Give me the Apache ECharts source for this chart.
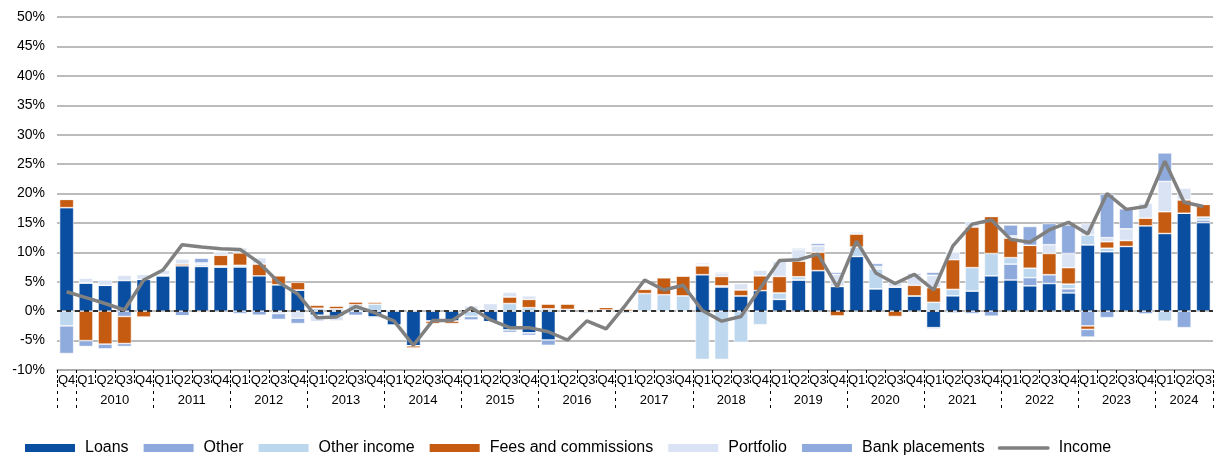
<!DOCTYPE html>
<html>
<head>
<meta charset="UTF-8">
<title>Income growth</title>
<script src="https://cdn.jsdelivr.net/npm/echarts@6/dist/echarts.min.js"></script>
<style>
  html, body { margin: 0; padding: 0; background: #fff; }
  #container { width: 1215px; height: 458px; }
</style>
</head>
<body>
<div id="container"></div>
<script type="text/javascript">
// periods: 2009 Q4 .. 2024 Q3
var quarterLabels = [];
var yearLabels = [];
(function () {
  var y = 2009, q = 4;
  while (!(y === 2024 && q === 4)) {
    quarterLabels.push('Q' + q);
    yearLabels.push(String(y));
    q++;
    if (q > 4) { q = 1; y++; }
  }
})();

// contributions, percentage points
var loans = [17.6, 4.8, 4.4, 5.2, 5.4, 6.0, 7.7, 7.6, 7.5, 7.5, 6.0, 4.5, 3.6,
  -0.7, -0.9, 0, -1.0, -2.4, -5.9, -1.7, -1.7, 0, -1.8, -3.2, -3.7, -4.9, 0, 0, 0,
  0, 0, 0, 0, 6.2, 4.1, 2.6, 3.5, 2.0, 5.3, 6.9, 4.2, 9.3, 3.8, 4.1, 2.6,
  -2.8, 2.6, 3.4, 6.0, 5.3, 4.3, 4.7, 3.1, 11.25, 10.1, 11.0, 14.5, 13.2, 16.65, 15.05];
var other = [0, 0, 0, -0.9, 0, 0, -0.8, 0, 0, -0.4, -0.7, 0, 0,
  0, 0, -0.7, 0, 0, 0, 0, 0, 0, 0, 0, 0, -0.9, 0, 0, 0,
  0, 0, 0, 0, 0, 0.2, 0, 0, 0, 0, 0, 0, 0, 0, 0, 0,
  -0.2, -0.3, -0.4, -0.85, 2.7, 1.4, 1.5, 0.7, -2.5, -1.1, 0, -0.5, 0, 0, 0.45];
var otherIncome = [-2.5, 0, 0, 0, 0, 0.2, 0, 0.3, 0.2, 0.3, 0, 0, 0,
  0.5, 0.4, 1.1, 1.2, 0, 0, 0, 0, -0.9, 0, 1.3, 0.6, 0.4, 0.3, 0, 0.2,
  0, 3.0, 2.8, 2.6, -8.2, -8.2, -5.3, -2.3, 1.1, 0.55, 0, 0, 1.6, 3.4, 0, 0,
  1.5, 1.1, 4.0, 3.8, 1.1, 1.6, 0, 0.8, 1.7, 0.6, 0, 0, -1.7, 0, 0.5];
var fees = [1.4, -5.0, -5.6, -4.6, -1.0, 0, 0.3, -0.2, 1.8, 2.1, 2.0, 1.5, 1.3,
  0.5, 0.45, 0.5, 0.3, 0, -0.35, -0.4, -0.4, 0.3, 0, 1.1, 1.4, 0.85, 0.95, 0.2, 0.45,
  0.3, 0.7, 2.9, 3.4, 1.5, 1.6, 1.0, 2.5, 2.8, 2.65, 3.1, -0.8, 2.2, 0, -0.9, 1.8,
  2.5, 5.05, 6.9, 6.3, 3.3, 3.9, 3.6, 2.8, -0.6, 1.1, 1.0, 1.3, 3.7, 2.25, 2.15];
var portfolio = [0, 0.8, 0.9, 0.9, 0.85, 0.8, 0.9, 0.3, 0.6, 0.9, 1.1, -0.4, -1.2,
  -1.1, -0.8, 0, -0.3, 0.3, 0.3, 0.3, 0.2, 0.6, 1.3, 0.8, 0.6, 0, 0, -0.4, 0,
  -0.4, 0.2, 0, 0, 0.3, 0.5, 1.1, 1.0, 2.6, 1.95, 1.1, 2.05, 0.4, 0.4, 1.1, 1.7,
  2.1, 1.35, 1.0, 0, 0.4, 0, 1.5, 2.4, 1.95, 0.7, 2.0, 2.55, 5.15, 2.0, 0];
var bankPlacements = [-4.7, -1.0, -0.8, -0.5, 0, 0, 0, 0.8, 0, 0, 0, -1.0, -0.9,
  0, 0, 0, 0, 0, 0, 0, 0, -0.6, 0, -0.4, -0.4, 0, 0, 0, 0,
  0, 0, 0, 0, 0.2, 0.2, 0, 0, 0, 0.25, 0.4, 0.35, 0, 0.5, 0, 0.3,
  0.5, 0, 0, 0, 1.85, 3.2, 3.6, 4.85, -1.3, 7.4, 3.4, 0, 4.85, -2.8, 0];
var income = [3.3, 2.3, 1.3, 0.2, 5.3, 7.0, 11.3, 10.9, 10.6, 10.5, 8.2, 4.9, 2.9,
  -1.1, -1.0, 0.8, -0.3, -1.7, -5.8, -1.6, -1.6, 0.6, -1.5, -2.8, -2.8, -3.5, -4.9, -1.65, -3.0,
  1.0, 5.3, 3.6, 4.4, 0.1, -1.7, -0.9, 3.9, 8.6, 8.75, 9.7, 4.1, 11.9, 6.5, 4.7, 6.25,
  3.6, 11.1, 14.8, 15.5, 12.2, 11.7, 13.8, 15.1, 13.1, 20.0, 17.3, 17.8, 25.5, 18.5, 17.8];

var FONT = 'Liberation Sans, Arial, sans-serif';

var dom = document.getElementById('container');
var myChart = echarts.init(dom, null, { renderer: 'canvas' });

function barSeries(name, data, color) {
  return {
    name: name,
    type: 'bar',
    stack: 'total',
    data: data,
    barCategoryGap: '27%',
    itemStyle: { color: color, borderColor: '#ffffff', borderWidth: 0.6 },
    emphasis: { disabled: true }
  };
}

var series = [
  barSeries('Loans', loans, '#0a4ea2'),
  barSeries('Other', other, '#8eaadd'),
  barSeries('Other income', otherIncome, '#bdd7ee'),
  barSeries('Fees and commissions', fees, '#c55a11'),
  barSeries('Portfolio', portfolio, '#dae3f3'),
  barSeries('Bank placements', bankPlacements, '#8faadc'),
  {
    name: 'Income',
    type: 'line',
    data: income,
    symbol: 'none',
    z: 5,
    lineStyle: { color: '#808080', width: 3.5 },
    itemStyle: { color: '#808080' }
  }
];
// dashed zero line
series[0].markLine = {
  silent: true,
  symbol: 'none',
  label: { show: false },
  lineStyle: { color: '#000', type: [5, 4], width: 1.5 },
  data: [{ yAxis: 0 }],
  z: 4
};

var option = {
  animation: false,
  textStyle: { fontFamily: FONT },
  grid: { left: 57, right: 0, top: 17, bottom: 88 },
  legend: {
    left: 18,
    top: 435,
    itemWidth: 52,
    itemHeight: 10,
    itemGap: 13,
    textStyle: { fontFamily: FONT, fontSize: 16, color: '#000', padding: [0, 0, 0, 4] },
    data: [
      { name: 'Loans', icon: 'rect' },
      { name: 'Other', icon: 'rect' },
      { name: 'Other income', icon: 'rect' },
      { name: 'Fees and commissions', icon: 'rect' },
      { name: 'Portfolio', icon: 'rect' },
      { name: 'Bank placements', icon: 'rect' },
      { name: 'Income', icon: 'path://M0,0h0.05v0.05h-0.05z M1,3.3h50a1.7,1.7 0 0 1 0,3.4h-50a1.7,1.7 0 0 1 0,-3.4z M0,9.95h0.05v0.05h-0.05z' }
    ]
  },
  xAxis: [
    {
      type: 'category',
      data: quarterLabels,
      position: 'bottom',
      axisLine: { onZero: false, lineStyle: { color: '#a6a6a6', width: 1.5 } },
      axisTick: { show: true, interval: 0, length: 14, lineStyle: { color: '#000', type: [3, 2], width: 1 } },
      axisLabel: { interval: 0, fontSize: 13, color: '#000', margin: 4, fontFamily: FONT },
      splitLine: { show: false }
    },
    {
      type: 'category',
      data: yearLabels,
      position: 'bottom',
      offset: 14,
      axisLine: { show: false, onZero: false },
      axisTick: {
        show: true,
        length: 28,
        lineStyle: { color: '#000', type: [3, 4], width: 1 },
        interval: function (index) { return index % 4 === 1 || index === 0; }
      },
      axisLabel: {
        fontSize: 13,
        color: '#000',
        margin: 10,
        fontFamily: FONT,
        interval: function (index) { return index % 4 === 2; },
        formatter: function (value, index) {
          return index === 58 ? '{c|' + value + '}' : '{s|' + value + '}';
        },
        rich: {
          s: { fontSize: 13, fontFamily: FONT, color: '#000', padding: [0, 0, 0, 19] },
          c: { fontSize: 13, fontFamily: FONT, color: '#000' }
        }
      },
      splitLine: { show: false }
    }
  ],
  yAxis: {
    type: 'value',
    min: -10,
    max: 50,
    interval: 5,
    axisLine: { show: false },
    axisTick: { show: false },
    axisLabel: { formatter: '{value}%', fontSize: 14, color: '#000', margin: 12, fontFamily: FONT },
    splitLine: { lineStyle: { color: '#a6a6a6', width: 1.5 } }
  },
  series: series
};

if (option && typeof option === 'object') {
  myChart.setOption(option, true);
}
</script>
</body>
</html>
